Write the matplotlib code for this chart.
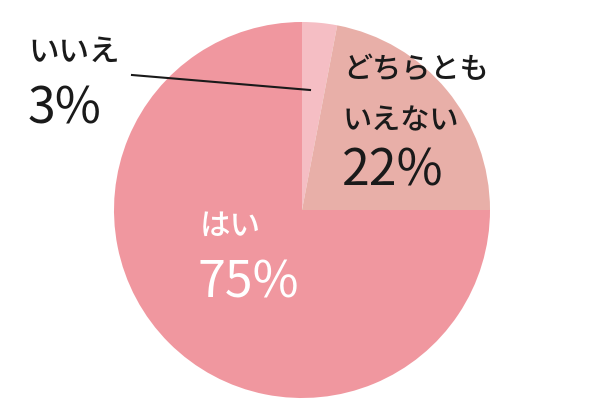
import matplotlib.pyplot as plt

plt.rcParams['font.family'] = ['Noto Sans CJK JP', 'DejaVu Sans']

labels = ['いいえ', 'どちらとも\nいえない', 'はい']
values = [3, 22, 75]
colors = ['#F5BEC4', '#E8AFA8', '#F0979F']

fig = plt.figure(figsize=(6, 4.2), dpi=100)
ax = fig.add_axes([0, 0, 1, 1])

# pie, clockwise from the top
ax.pie(values, colors=colors, startangle=90, counterclock=False,
       center=(302, 210), radius=188, wedgeprops=dict(linewidth=0), frame=True)

ax.set_xlim(0, 600)
ax.set_ylim(0, 420)
ax.set_aspect('equal')
ax.axis('off')

H = 420
ink = '#1a1a1a'

# いいえ
ax.text(28, H - 37, labels[0], fontsize=22, fontweight='medium', ha='left', va='top', color=ink)
ax.text(28, H - 83, f'{values[0]}%', fontsize=36, ha='left', va='top', color=ink)
ax.plot([132, 310], [H - 75, H - 90], color=ink, lw=1.5)

# どちらともいえない
line1, line2 = labels[1].split('\n')
ax.text(343, H - 54, line1, fontsize=21, fontweight='medium', ha='left', va='top', color=ink)
ax.text(343, H - 105, line2, fontsize=21, fontweight='medium', ha='left', va='top', color=ink)
ax.text(342, H - 146, f'{values[1]}%', fontsize=36, ha='left', va='top', color=ink)

# はい
ax.text(200, H - 211, labels[2], fontsize=22, fontweight='medium', ha='left', va='top', color='white')
ax.text(198, H - 257, f'{values[2]}%', fontsize=36, ha='left', va='top', color='white')

plt.savefig('out.png', dpi=100)
plt.close()
